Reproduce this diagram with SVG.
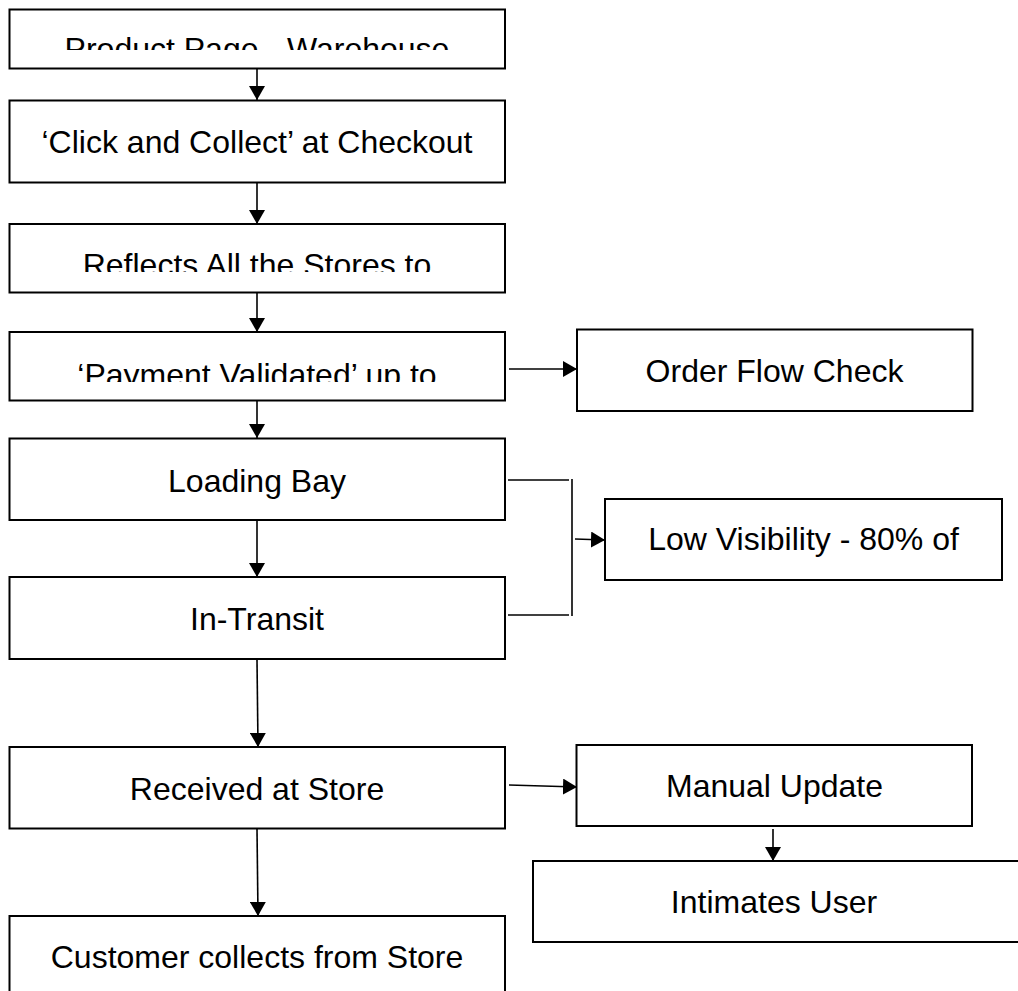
<svg xmlns="http://www.w3.org/2000/svg" width="1018" height="991" viewBox="0 0 1018 991">
<style>
.box{fill:#fff;stroke:#000;stroke-width:2}
.t{font-family:"Liberation Sans",Arial,sans-serif;font-size:32px;fill:#000;text-anchor:middle}
.c{fill:none;stroke:#000;stroke-width:1.6}
</style>
<defs>
<marker id="ah" markerUnits="userSpaceOnUse" markerWidth="14" markerHeight="16" refX="14" refY="8" orient="auto">
<path d="M0,0 L14,8 L0,16 z" fill="#000"/>
</marker>
<clipPath id="c1"><rect x="0" y="0" width="520" height="50"/></clipPath>
<clipPath id="c3"><rect x="0" y="224" width="520" height="48"/></clipPath>
<clipPath id="c4"><rect x="0" y="332" width="520" height="50"/></clipPath>
</defs>
<rect width="1018" height="991" fill="#fff"/>
<g id="connectors">
<line class="c" x1="257" y1="69" x2="257" y2="100" marker-end="url(#ah)"/>
<line class="c" x1="257" y1="183" x2="257" y2="224" marker-end="url(#ah)"/>
<line class="c" x1="257" y1="293" x2="257" y2="332" marker-end="url(#ah)"/>
<line class="c" x1="257" y1="401" x2="257" y2="438" marker-end="url(#ah)"/>
<line class="c" x1="257" y1="521" x2="257" y2="577" marker-end="url(#ah)"/>
<line class="c" x1="257" y1="660" x2="258" y2="747" marker-end="url(#ah)"/>
<line class="c" x1="257" y1="829" x2="258" y2="916" marker-end="url(#ah)"/>
<line class="c" x1="509" y1="369" x2="577" y2="369" marker-end="url(#ah)"/>
<line class="c" x1="508" y1="480" x2="569" y2="480"/>
<line class="c" x1="508" y1="615" x2="569" y2="615"/>
<line class="c" x1="572" y1="479" x2="572" y2="616"/>
<line class="c" x1="575" y1="539" x2="605" y2="540" marker-end="url(#ah)"/>
<line class="c" x1="509" y1="785" x2="577" y2="787" marker-end="url(#ah)"/>
<line class="c" x1="773" y1="829" x2="773" y2="861" marker-end="url(#ah)"/>
</g>
<g id="n1"><rect class="box" x="9.5" y="9.5" width="495.5" height="59"/><text class="t" x="257" y="60" clip-path="url(#c1)">Product Page - Warehouse</text></g>
<g id="n2"><rect class="box" x="9.5" y="100.5" width="495.5" height="82"/><text class="t" x="257" y="153">‘Click and Collect’ at Checkout</text></g>
<g id="n3"><rect class="box" x="9.5" y="224" width="495.5" height="68.5"/><text class="t" x="257" y="276" clip-path="url(#c3)">Reflects All the Stores to</text></g>
<g id="n4"><rect class="box" x="9.5" y="332" width="495.5" height="68.5"/><text class="t" x="257" y="386" clip-path="url(#c4)">‘Payment Validated’ up to</text></g>
<g id="n5"><rect class="box" x="9.5" y="438.5" width="495.5" height="81.5"/><text class="t" x="257" y="492">Loading Bay</text></g>
<g id="n6"><rect class="box" x="9.5" y="577" width="495.5" height="82"/><text class="t" x="257" y="630">In-Transit</text></g>
<g id="n7"><rect class="box" x="9.5" y="747" width="495.5" height="81.5"/><text class="t" x="257" y="800">Received at Store</text></g>
<g id="n8"><rect class="box" x="9.5" y="916" width="495.5" height="100"/><text class="t" x="257" y="968">Customer collects from Store</text></g>
<g id="n9"><rect class="box" x="577" y="329.5" width="395.5" height="81.5"/><text class="t" x="774.5" y="382">Order Flow Check</text></g>
<g id="n10"><rect class="box" x="605" y="499" width="397" height="81"/><text class="t" x="803.5" y="550">Low Visibility - 80% of</text></g>
<g id="n11"><rect class="box" x="576.5" y="745" width="395.5" height="81"/><text class="t" x="774.5" y="797">Manual Update</text></g>
<g id="n12"><rect class="box" x="533" y="861" width="500" height="81"/><text class="t" x="774" y="913">Intimates User</text></g>
</svg>
